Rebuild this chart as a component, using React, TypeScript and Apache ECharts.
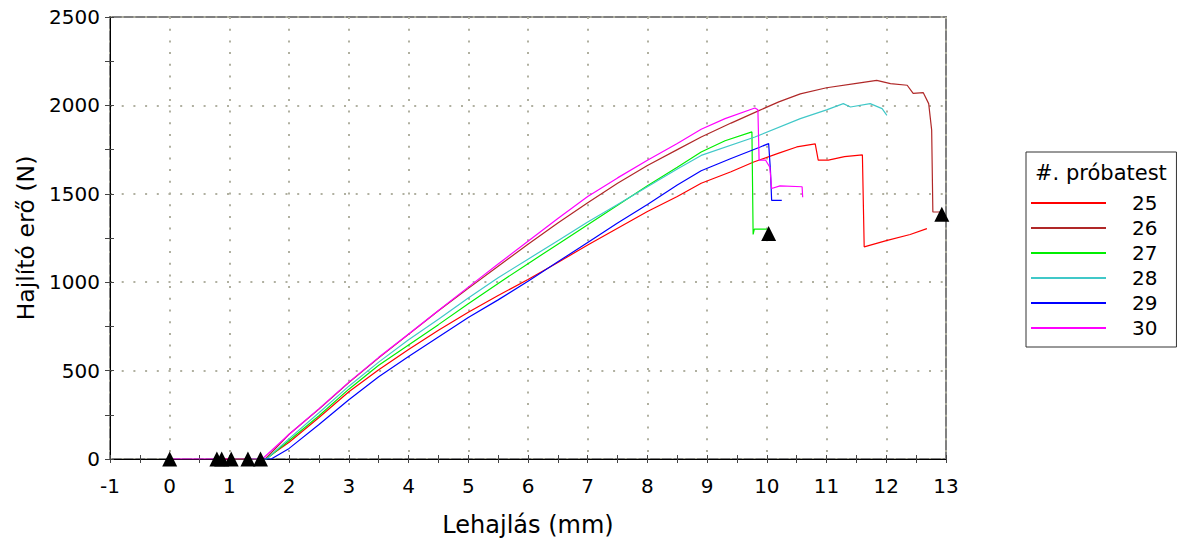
import React, { useEffect, useRef } from "react";
import * as echarts from "echarts";

const seriesNames = ["25", "26", "27", "28", "29", "30"];
const seriesColors = ["#ff0000", "#b02828", "#00ee00", "#40c8c8", "#0000ff", "#ff00ff"];

const d25: number[][] = [
  [0.79, 0], [1.6, 0], [2, 95], [2.5, 235], [3, 380], [3.5, 505], [4, 620], [4.5, 728], [5, 830],
  [5.5, 925], [6, 1015], [6.5, 1112], [7, 1210], [7.5, 1305], [8, 1400], [8.5, 1485], [8.9, 1560],
  [9.4, 1625], [9.78, 1680], [10.2, 1730], [10.5, 1765], [10.81, 1782], [10.86, 1690], [11.03, 1690],
  [11.3, 1710], [11.6, 1720], [11.63, 1200], [12.0, 1235], [12.4, 1270], [12.68, 1303],
];
const d26: number[][] = [
  [0.87, 0], [1.6, 0], [2, 140], [2.5, 282], [3, 432], [3.5, 572], [4, 705], [4.5, 838], [5, 965],
  [5.5, 1090], [6, 1215], [6.5, 1335], [7, 1450], [7.5, 1560], [8, 1660], [8.5, 1750], [8.9, 1821],
  [9.4, 1900], [9.83, 1965], [10.2, 2020], [10.56, 2065], [11, 2100], [11.5, 2125], [11.84, 2142],
  [12.07, 2123], [12.35, 2114], [12.45, 2068], [12.62, 2072], [12.71, 2010], [12.76, 1860],
  [12.78, 1397], [12.93, 1397],
];
const d27: number[][] = [
  [1.03, 0], [1.62, 0], [2, 105], [2.5, 245], [3, 395], [3.5, 530], [4, 645], [4.5, 760], [5, 878],
  [5.5, 993], [6, 1105], [6.5, 1215], [7, 1325], [7.5, 1435], [8, 1545], [8.5, 1650], [8.9, 1736],
  [9.3, 1800], [9.75, 1850], [9.77, 1270], [9.79, 1300], [10.0, 1300],
];
const d28: number[][] = [
  [1.31, 0], [1.62, 0], [2, 115], [2.5, 262], [3, 412], [3.5, 548], [4, 675], [4.5, 790], [5, 910],
  [5.5, 1025], [6, 1130], [6.5, 1235], [7, 1340], [7.5, 1440], [8, 1540], [8.5, 1640], [8.9, 1717],
  [9.8, 1821], [10.56, 1925], [11, 1975], [11.28, 2010], [11.4, 1991], [11.73, 2010], [11.93, 1982],
  [12.01, 1944],
];
const d29: number[][] = [
  [1.52, 0], [1.7, 0], [2, 60], [2.5, 195], [3, 335], [3.5, 465], [4, 580], [4.5, 690], [5, 800],
  [5.5, 900], [6, 1005], [6.5, 1115], [7, 1225], [7.5, 1335], [8, 1440], [8.5, 1550], [8.9, 1630],
  [9.4, 1700], [9.89, 1765], [10.03, 1784], [10.06, 1633], [10.08, 1463], [10.25, 1463],
];
const d30: number[][] = [
  [0, 0], [1.55, 0], [2, 140], [2.5, 285], [3, 435], [3.5, 575], [4, 707], [4.5, 840], [5, 972],
  [5.5, 1103], [6, 1232], [6.5, 1360], [7, 1485], [7.5, 1590], [8, 1690], [8.5, 1785], [8.9, 1865],
  [9.3, 1925], [9.8, 1985], [9.85, 1975], [9.87, 1690], [9.98, 1690], [10.05, 1650], [10.08, 1530],
  [10.22, 1545], [10.59, 1540], [10.6, 1480],
];
const seriesData = [d25, d26, d27, d28, d29, d30];

const markerX = [0, 0.79, 0.87, 1.03, 1.31, 1.52, 10.03, 12.93];
const markerY = [0, 0, 0, 0, 0, 0, 1275, 1385];

const xTitle = "Lehajlás (mm)";
const yTitle = "Hajlító erő (N)";
const legendTitle = "#. próbatest";

const FONT = "DejaVu Sans, Verdana, sans-serif";

export default function App() {
  const ref = useRef<HTMLDivElement>(null);
  useEffect(() => {
    if (!ref.current) return;
    const chart = echarts.init(ref.current, undefined, { renderer: "svg" });
    const gridDot = { color: "#b0b0a0", type: [2, 9.7] as any, width: 2 };
    const tickColor = "#444";
    const option: any = {
      animation: false,
      textStyle: { fontFamily: FONT },
      grid: {
        left: 110, right: 242, top: 17, bottom: 86,
        show: true, borderColor: "#808080", borderWidth: 2, backgroundColor: "transparent",
      },
      xAxis: [
        {
          type: "value", min: -1, max: 13, interval: 1,
          axisLine: { show: true, onZero: false, lineStyle: { color: "#000", width: 1 } },
          axisTick: { show: true, length: 4, lineStyle: { color: tickColor } },
          minorTick: { show: true, splitNumber: 2, length: 4, lineStyle: { color: tickColor } },
          axisLabel: { fontSize: 20, fontFamily: FONT, color: "#000", margin: 17 },
          splitLine: { show: true, lineStyle: gridDot },
          name: xTitle, nameLocation: "middle", nameGap: 54,
          nameTextStyle: { fontSize: 24, fontFamily: FONT, color: "#000" },
        },
        {
          type: "value", min: -1, max: 13, interval: 1, position: "bottom",
          axisLine: { show: false, onZero: false },
          axisTick: { show: true, inside: true, length: 4, lineStyle: { color: tickColor } },
          minorTick: { show: true, splitNumber: 2, length: 4, lineStyle: { color: tickColor } },
          axisLabel: { show: false }, splitLine: { show: false },
        },
      ],
      yAxis: [
        {
          type: "value", min: 0, max: 2500, interval: 500,
          axisLine: { show: true, onZero: false, lineStyle: { color: "#000", width: 1 } },
          axisTick: { show: true, length: 5, lineStyle: { color: tickColor } },
          minorTick: { show: true, splitNumber: 2, length: 5, lineStyle: { color: tickColor } },
          axisLabel: { fontSize: 20, fontFamily: FONT, color: "#000", margin: 10, formatter: (v: number) => String(v) },
          splitLine: { show: true, lineStyle: gridDot },
          name: yTitle, nameLocation: "middle", nameGap: 63, nameRotate: 90,
          nameTextStyle: { fontSize: 23.5, fontFamily: FONT, color: "#000" },
        },
        {
          type: "value", min: 0, max: 2500, interval: 500, position: "left",
          axisLine: { show: false, onZero: false },
          axisTick: { show: true, inside: true, length: 4, lineStyle: { color: tickColor } },
          minorTick: { show: true, splitNumber: 2, length: 4, lineStyle: { color: tickColor } },
          axisLabel: { show: false }, splitLine: { show: false },
        },
      ],
      legend: {
        data: seriesNames,
        orient: "vertical",
        left: 1026, top: 152,
        padding: [41, 19, 9, 5],
        icon: "rect",
        itemWidth: 75, itemHeight: 2, itemGap: 5,
        borderColor: "#333", borderWidth: 1,
        textStyle: { fontSize: 20, fontFamily: FONT, color: "#000", padding: [0, 0, 0, 21] },
      },
      graphic: [
        {
          type: "text", left: 1035, top: 162,
          style: { text: legendTitle, fontSize: 21, fontFamily: FONT, fill: "#000" },
        },
      ],
      series: [
        ...seriesNames.map((n, i) => ({
          name: n, type: "line", data: seriesData[i], symbol: "none",
          xAxisIndex: 0, yAxisIndex: 0,
          lineStyle: { color: seriesColors[i], width: 1.2 }, itemStyle: { color: seriesColors[i] },
        })),
        {
          name: "markers", type: "scatter", symbol: "triangle", symbolSize: [15, 15],
          itemStyle: { color: "#000", opacity: 1 }, xAxisIndex: 0, yAxisIndex: 0, z: 5,
          data: markerX.map((x, i) => [x, markerY[i]]),
        },
      ],
    };
    chart.setOption(option);
    return () => chart.dispose();
  }, []);
  return <div ref={ref} style={{ width: 1188, height: 545, position: "absolute", left: 0, top: 0 }} />;
}
